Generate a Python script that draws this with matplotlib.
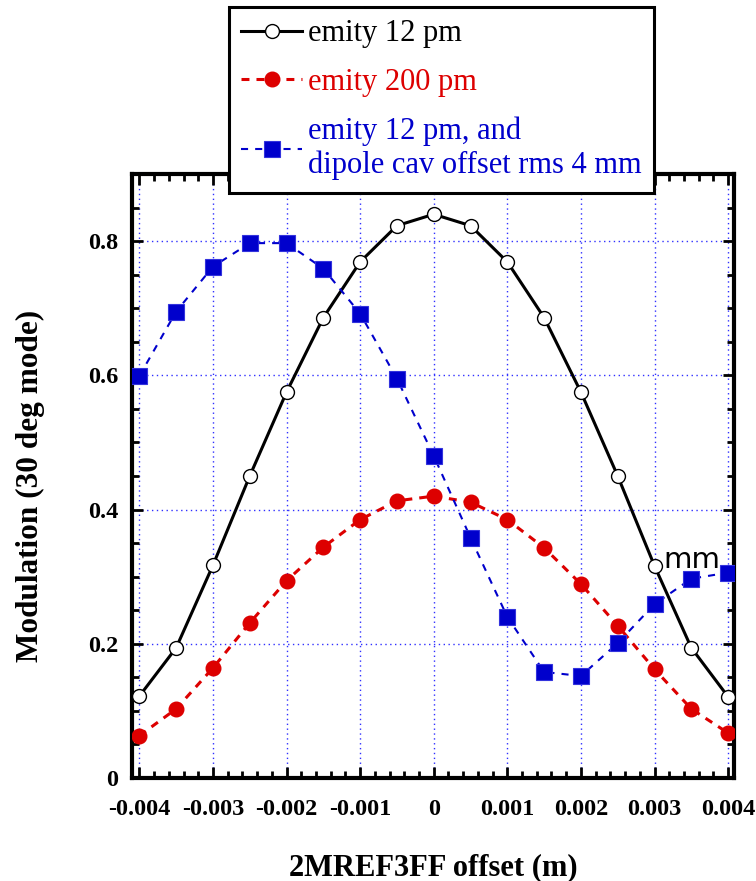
import matplotlib
matplotlib.use("Agg")
import matplotlib.pyplot as plt
from matplotlib.ticker import MultipleLocator, FuncFormatter

plt.rcParams["font.family"] = ["Liberation Serif", "DejaVu Serif"]
plt.rcParams["axes.unicode_minus"] = False

# offset of 2MREF3FF (m)
offset = [-0.004, -0.0035, -0.003, -0.0025, -0.002, -0.0015, -0.001, -0.0005, 0.0,
          0.0005, 0.001, 0.0015, 0.002, 0.0025, 0.003, 0.0035, 0.004]

# modulation, emittance 12 pm
mod_12pm = [0.122, 0.194, 0.317, 0.450, 0.575, 0.686, 0.769, 0.823, 0.840,
            0.823, 0.769, 0.686, 0.575, 0.450, 0.316, 0.194, 0.121]

# modulation, emittance 200 pm
mod_200pm = [0.063, 0.103, 0.164, 0.231, 0.294, 0.344, 0.385, 0.413, 0.420,
             0.411, 0.385, 0.343, 0.289, 0.227, 0.162, 0.103, 0.067]

# modulation, 12 pm with dipole cavity offset rms 4 mm
mod_dipole = [0.599, 0.695, 0.762, 0.797, 0.797, 0.759, 0.692, 0.595, 0.480,
              0.358, 0.240, 0.158, 0.152, 0.201, 0.259, 0.297, 0.306]

labels = ["emity 12 pm", "emity 200 pm",
          "emity 12 pm, and\ndipole cav offset rms 4 mm"]

RED = "#dd0000"
BLUE = "#0000cc"

W, H = 756, 881
fig = plt.figure(figsize=(W / 100, H / 100), dpi=100)
ax = fig.add_axes([132 / W, 1 - 778 / H, (734 - 132) / W, (778 - 174) / H])

ax.grid(True, which="major", color="#3030ff", linestyle=(0, (1, 2.5)), linewidth=1.0)
ax.set_axisbelow(True)

l1, = ax.plot(offset, mod_12pm, color="black", lw=2.2, marker="o", ms=10,
              mfc="white", mec="black", mew=1.0, zorder=3)
l2, = ax.plot(offset, mod_200pm, color=RED, lw=2.2, dashes=[2.6, 2.3], marker="o",
              ms=10.5, mfc=RED, mec=RED, zorder=3)
l3, = ax.plot(offset, mod_dipole, color=BLUE, lw=1.5, dashes=[3.4, 3.4], marker="s",
              ms=12, mfc=BLUE, mec="#3333dd", mew=0.8, zorder=3)

ax.set_xlim(-0.0041, 0.00408)
ax.set_ylim(0, 0.9)
ax.xaxis.set_major_locator(MultipleLocator(0.001))
ax.xaxis.set_minor_locator(MultipleLocator(0.0002))
ax.yaxis.set_major_locator(MultipleLocator(0.2))
ax.yaxis.set_minor_locator(MultipleLocator(0.05))

fmt = FuncFormatter(lambda v, p: "0" if abs(v) < 1e-12 else f"{v:g}")
ax.xaxis.set_major_formatter(fmt)
ax.yaxis.set_major_formatter(fmt)

ax.tick_params(which="both", direction="in", top=True, right=True, width=2)
ax.tick_params(which="major", length=8)
ax.tick_params(which="minor", length=5)
ax.tick_params(axis="x", which="major", pad=15)
ax.tick_params(axis="y", which="major", pad=10)
for t in ax.get_xticklabels() + ax.get_yticklabels():
    t.set_fontsize(17.5)
    t.set_fontweight("bold")
for s in ax.spines.values():
    s.set_linewidth(3)

ax.set_xlabel("2MREF3FF offset (m)", fontsize=22, fontweight="bold")
ax.set_ylabel("Modulation (30 deg mode)", fontsize=22.5, fontweight="bold")
ax.xaxis.set_label_coords(0.5, -0.125)
ax.yaxis.set_label_coords(-0.145, 0.483)

# stray text left on the original figure
ax.text(0.00312, 0.313, "mm", fontsize=21, family="DejaVu Sans", color="black",
        va="baseline", ha="left", zorder=4)

leg = fig.legend([l1, l2, l3], labels, loc="upper left",
                 bbox_to_anchor=(229 / W, 1 - 7 / H), bbox_transform=fig.transFigure,
                 borderaxespad=0, fontsize=22, handlelength=2.0, handletextpad=0.2,
                 borderpad=0.4, labelspacing=0.65, fancybox=False, framealpha=1,
                 edgecolor="black")
leg.get_frame().set_linewidth(2.2)
for txt, c in zip(leg.get_texts(), ["black", RED, BLUE]):
    txt.set_color(c)

fig.savefig("out.png", dpi=100)
